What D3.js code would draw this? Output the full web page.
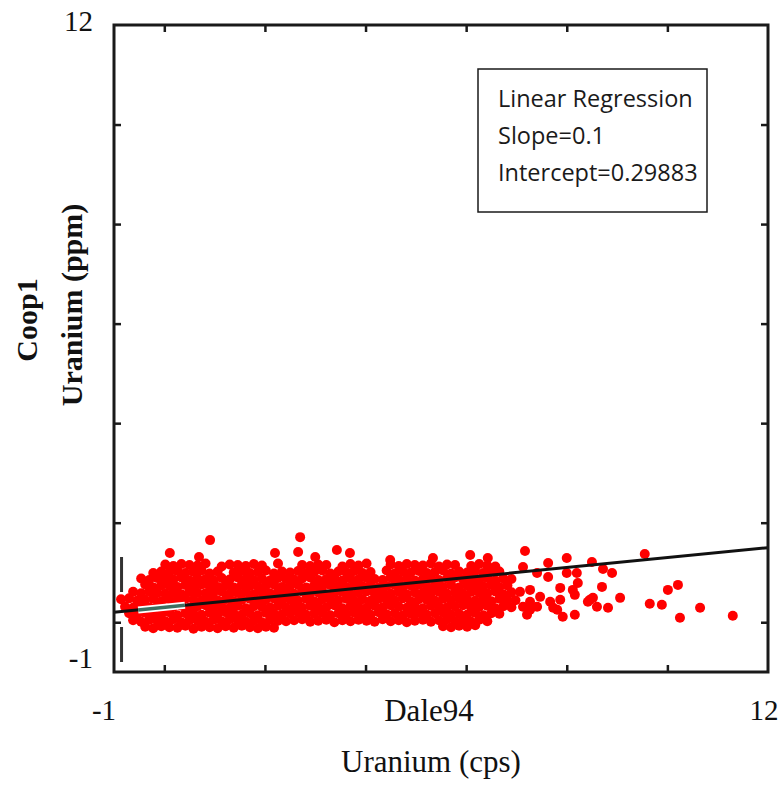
<!DOCTYPE html>
<html>
<head>
<meta charset="utf-8">
<script src="https://cdn.jsdelivr.net/npm/d3@7"></script>
<style>
  body { margin: 0; background: #ffffff; }
  svg { display: block; }
</style>
</head>
<body>
<svg id="chart" width="782" height="787"></svg>
<script>
// ---- axis settings ----
const xDomain = [-1, 12];
const yDomain = [-1, 12];
const xTicks = [0, 2, 4, 6, 8, 10];
const yTicks = [0, 2, 4, 6, 8, 10];
const xEndLabels = ["-1", "12"];
const yEndLabels = ["-1", "12"];
const xTitleLines = ["Dale94", "Uranium (cps)"];
const yTitleLines = ["Coop1", "Uranium (ppm)"];

// ---- fitted line ----
const slope = 0.1;
const intercept = 0.29883;
const legendTitle = "Linear Regression";

// highlighted stretch of the fitted line (x range)
const highlightSpan = [-0.52, 0.41];
// dashed marker near the left axis: x position and y extent
const markerX = -0.85;
const markerYSpan = [1.31, -0.80];

// ---- samples: [Dale94 cps, Coop1 ppm] ----
const densePoints = [
  [0.02,1.16],[0.18,1.13],[0.34,1.17],[0.50,1.15],[0.66,1.14],[0.82,1.18],[1.14,1.12],[1.30,1.16],[1.46,1.15],[1.62,1.13],[1.78,1.17],[1.94,1.14],[2.26,1.18],[2.74,1.15],[2.90,1.13],[3.06,1.16],[3.22,1.15],[3.54,1.12],[3.70,1.17],[3.86,1.14],[4.02,1.18],[4.50,1.16],[4.66,1.13],[4.82,1.17],[4.98,1.15],[5.14,1.14],[5.30,1.18],[5.46,1.12],[5.62,1.16],[5.78,1.15],[6.10,1.13],[6.26,1.17],[6.42,1.14],[6.58,1.12],
  [-0.22,0.99],[-0.06,1.02],[0.10,1.00],[0.26,1.03],[0.42,0.99],[0.58,1.01],[0.74,1.04],[0.90,0.98],[1.06,1.02],[1.38,1.00],[1.54,1.03],[1.70,0.99],[1.86,1.01],[2.02,1.04],[2.18,0.98],[2.34,1.02],[2.50,1.00],[2.66,1.03],[2.82,0.99],[2.98,1.01],[3.14,1.04],[3.30,0.98],[3.46,1.02],[3.62,1.00],[3.78,1.03],[3.94,0.99],[4.10,1.01],[4.42,1.04],[4.58,0.98],[4.74,1.02],[4.90,1.00],[5.06,1.03],[5.22,0.99],[5.38,1.01],[5.54,1.04],[5.70,0.98],[5.86,1.02],[6.02,1.00],[6.18,1.03],[6.34,0.99],[6.50,1.01],[6.66,1.02],
  [-0.46,0.88],[-0.30,0.85],[-0.14,0.89],[0.02,0.87],[0.18,0.86],[0.34,0.90],[0.50,0.84],[0.66,0.88],[0.82,0.87],[0.98,0.85],[1.14,0.89],[1.30,0.86],[1.46,0.90],[1.62,0.87],[1.78,0.85],[1.94,0.88],[2.10,0.84],[2.26,0.89],[2.42,0.87],[2.58,0.86],[2.74,0.88],[2.90,0.90],[3.06,0.85],[3.22,0.87],[3.38,0.89],[3.54,0.84],[3.70,0.88],[3.86,0.86],[4.02,0.89],[4.18,0.87],[4.34,0.85],[4.50,0.90],[4.66,0.86],[4.82,0.88],[4.98,0.84],[5.14,0.87],[5.30,0.89],[5.46,0.85],[5.62,0.88],[5.78,0.90],[5.94,0.86],[6.10,0.87],[6.26,0.85],[6.42,0.89],[6.58,0.84],[6.74,0.88],[6.90,0.87],
  [-0.38,0.76],[-0.22,0.70],[-0.06,0.74],[0.10,0.73],[0.26,0.71],[0.42,0.75],[0.58,0.72],[0.74,0.76],[0.90,0.73],[1.06,0.71],[1.22,0.74],[1.38,0.70],[1.54,0.75],[1.70,0.73],[1.86,0.72],[2.02,0.74],[2.18,0.76],[2.34,0.71],[2.50,0.73],[2.66,0.75],[2.82,0.70],[2.98,0.74],[3.14,0.72],[3.30,0.75],[3.46,0.73],[3.62,0.71],[3.78,0.76],[3.94,0.72],[4.10,0.74],[4.26,0.70],[4.42,0.73],[4.58,0.75],[4.74,0.71],[4.90,0.74],[5.06,0.76],[5.22,0.72],[5.38,0.73],[5.54,0.71],[5.70,0.75],[5.86,0.70],[6.02,0.74],[6.18,0.73],[6.34,0.72],[6.50,0.75],[6.66,0.71],[6.82,0.74],
  [-0.62,0.61],[-0.46,0.58],[-0.30,0.62],[-0.14,0.59],[0.02,0.57],[0.18,0.60],[0.34,0.56],[0.50,0.61],[0.66,0.59],[0.82,0.58],[0.98,0.60],[1.14,0.62],[1.30,0.57],[1.46,0.59],[1.62,0.61],[1.78,0.56],[1.94,0.60],[2.10,0.58],[2.26,0.61],[2.42,0.59],[2.58,0.57],[2.74,0.62],[2.90,0.58],[3.06,0.60],[3.22,0.56],[3.38,0.59],[3.54,0.61],[3.70,0.57],[3.86,0.60],[4.02,0.62],[4.18,0.58],[4.34,0.59],[4.50,0.57],[4.66,0.61],[4.82,0.56],[4.98,0.60],[5.14,0.59],[5.30,0.58],[5.46,0.61],[5.62,0.57],[5.78,0.60],[5.94,0.57],[6.10,0.61],[6.26,0.59],[6.42,0.58],[6.58,0.62],[6.74,0.56],[6.90,0.60],
  [-0.86,0.46],[-0.70,0.48],[-0.54,0.43],[-0.38,0.45],[-0.22,0.47],[-0.06,0.42],[0.10,0.46],[0.26,0.44],[0.42,0.47],[0.58,0.45],[0.74,0.43],[0.90,0.48],[1.06,0.44],[1.22,0.46],[1.38,0.42],[1.54,0.45],[1.70,0.47],[1.86,0.43],[2.02,0.46],[2.18,0.48],[2.34,0.44],[2.50,0.45],[2.66,0.43],[2.82,0.47],[2.98,0.42],[3.14,0.46],[3.30,0.45],[3.46,0.44],[3.62,0.47],[3.78,0.43],[3.94,0.46],[4.10,0.43],[4.26,0.47],[4.42,0.45],[4.58,0.44],[4.74,0.48],[4.90,0.42],[5.06,0.46],[5.22,0.45],[5.38,0.43],[5.54,0.47],[5.70,0.44],[5.86,0.48],[6.02,0.45],[6.18,0.43],[6.34,0.46],[6.50,0.42],[6.66,0.47],[6.82,0.45],[6.98,0.44],
  [-0.78,0.31],[-0.62,0.29],[-0.46,0.34],[-0.30,0.30],[-0.14,0.32],[0.02,0.28],[0.18,0.31],[0.34,0.33],[0.50,0.29],[0.66,0.32],[0.82,0.34],[0.98,0.30],[1.14,0.31],[1.30,0.29],[1.46,0.33],[1.62,0.28],[1.78,0.32],[1.94,0.31],[2.10,0.30],[2.26,0.33],[2.42,0.29],[2.58,0.32],[2.74,0.29],[2.90,0.33],[3.06,0.31],[3.22,0.30],[3.38,0.34],[3.54,0.28],[3.70,0.32],[3.86,0.31],[4.02,0.29],[4.18,0.33],[4.34,0.30],[4.50,0.34],[4.66,0.31],[4.82,0.29],[4.98,0.32],[5.14,0.28],[5.30,0.33],[5.46,0.31],[5.62,0.30],[5.78,0.32],[5.94,0.34],[6.10,0.29],[6.26,0.31],[6.42,0.33],[6.58,0.28],[6.74,0.32],[6.90,0.30],
  [-0.70,0.18],[-0.54,0.15],[-0.38,0.19],[-0.22,0.17],[-0.06,0.16],[0.10,0.20],[0.26,0.14],[0.42,0.18],[0.58,0.17],[0.74,0.15],[0.90,0.19],[1.06,0.16],[1.22,0.20],[1.38,0.17],[1.54,0.15],[1.70,0.18],[1.86,0.14],[2.02,0.19],[2.18,0.17],[2.34,0.16],[2.50,0.18],[2.66,0.20],[2.82,0.15],[2.98,0.17],[3.14,0.19],[3.30,0.14],[3.46,0.18],[3.62,0.16],[3.78,0.19],[3.94,0.17],[4.10,0.15],[4.26,0.20],[4.42,0.16],[4.58,0.18],[4.74,0.14],[4.90,0.17],[5.06,0.19],[5.22,0.15],[5.38,0.18],[5.54,0.20],[5.70,0.16],[5.86,0.17],[6.02,0.15],[6.18,0.19],[6.34,0.14],[6.50,0.18],[6.66,0.17],
  [-0.62,0.04],[-0.46,0.01],[-0.30,0.05],[-0.14,0.03],[0.02,0.02],[0.18,0.06],[0.34,0.00],[0.50,0.04],[0.66,0.03],[0.82,0.01],[0.98,0.05],[1.14,0.02],[1.30,0.06],[1.46,0.03],[1.62,0.01],[1.78,0.04],[1.94,0.00],[2.10,0.05],[2.26,0.03],[2.42,0.02],[2.58,0.04],[2.74,0.06],[2.90,0.01],[3.06,0.03],[3.22,0.05],[3.38,0.00],[3.54,0.04],[3.70,0.02],[3.86,0.05],[4.02,0.03],[4.18,0.01],[4.34,0.06],[4.50,0.02],[4.66,0.04],[4.82,0.00],[4.98,0.03],[5.14,0.05],[5.30,0.01],[5.46,0.04],[5.62,0.06],[5.78,0.02],[5.94,0.03],[6.10,0.01],[6.26,0.05],[6.42,0.02],
  [-0.38,-0.09],[-0.22,-0.12],[-0.06,-0.08],[0.10,-0.10],[0.26,-0.11],[0.42,-0.07],[0.58,-0.13],[0.74,-0.09],[0.90,-0.10],[1.06,-0.12],[1.22,-0.08],[1.38,-0.11],[1.54,-0.07],[1.70,-0.10],[1.86,-0.12],[2.02,-0.09],[2.18,-0.11],[5.54,-0.08],[5.70,-0.10],[5.86,-0.07],[6.02,-0.09],[6.18,-0.06]
];

const sparsePoints = [
  [0.91,1.65],[0.11,1.39],[0.69,1.31],[2.20,1.39],[2.70,1.71],[2.66,1.41],[3.00,1.31],[3.43,1.45],[3.69,1.39],[4.49,1.25],[5.34,1.29],[6.08,1.35],[6.43,1.29],
  [7.07,0.61],[7.13,1.11],[7.17,1.43],[7.13,0.31],[7.21,0.15],[7.27,0.65],[7.27,0.41],[7.27,0.25],[7.41,0.99],[7.41,0.31],[7.47,0.51],[7.63,1.19],[7.63,0.91],[7.67,0.41],[7.73,0.29],[7.81,0.25],[7.87,0.69],[7.87,0.45],[7.92,0.11],[8.00,1.29],[8.00,0.99],[8.12,0.65],[8.16,0.55],[8.16,0.15],[8.20,0.99],[8.22,0.79],[8.42,0.41],[8.46,0.45],[8.50,1.21],[8.52,0.49],[8.60,0.31],[8.70,0.71],[8.72,1.07],[8.82,0.29],[8.90,0.99],[9.06,0.49],[9.55,1.37],[9.65,0.37],[9.89,0.35],[10.01,0.65],[10.21,0.75],[10.25,0.09],[10.65,0.29],[11.30,0.13]
];

// ---- layout ----
const svg = d3.select("#chart");
const plot = { left: 114, right: 768, top: 25, bottom: 672 };

const x = d3.scaleLinear().domain(xDomain).range([plot.left, plot.right]);
const y = d3.scaleLinear().domain(yDomain).range([plot.bottom, plot.top]);

const serif = "'Liberation Serif', 'Times New Roman', serif";
const sans = "'Open Sans', 'Noto Sans', sans-serif";

svg.append("rect").attr("width", 782).attr("height", 787).attr("fill", "#ffffff");

// scatter
svg.append("g")
  .selectAll("circle")
  .data(densePoints.concat(sparsePoints))
  .join("circle")
  .attr("cx", d => x(d[0]))
  .attr("cy", d => y(d[1]))
  .attr("r", 5)
  .attr("fill", "#ff0000");

// fitted line across the full x range
const fit = v => slope * v + intercept;
svg.append("line")
  .attr("x1", x(xDomain[0])).attr("y1", y(fit(xDomain[0])))
  .attr("x2", x(xDomain[1])).attr("y2", y(fit(xDomain[1])))
  .attr("stroke", "#111111")
  .attr("stroke-width", 3);

// highlighted stretch of the fitted line
const hl = svg.append("g");
hl.append("line")
  .attr("x1", x(highlightSpan[0])).attr("y1", y(fit(highlightSpan[0])))
  .attr("x2", x(highlightSpan[1])).attr("y2", y(fit(highlightSpan[1])))
  .attr("stroke", "#ffffff").attr("stroke-width", 7);
hl.append("line")
  .attr("x1", x(highlightSpan[0])).attr("y1", y(fit(highlightSpan[0])))
  .attr("x2", x(highlightSpan[1])).attr("y2", y(fit(highlightSpan[1])))
  .attr("stroke", "#3f6e60").attr("stroke-width", 3.5);

// dashed marker beside the left axis
svg.append("line")
  .attr("x1", x(markerX)).attr("y1", y(markerYSpan[0]))
  .attr("x2", x(markerX)).attr("y2", y(markerYSpan[1]))
  .attr("stroke", "#333333")
  .attr("stroke-width", 3)
  .attr("stroke-dasharray", "35,35");

// inward ticks on all four sides
const tickLen = 7;
function styleTicks(g) {
  g.select(".domain").remove();
  g.selectAll(".tick line").attr("stroke", "#1a1a1a").attr("stroke-width", 2.5);
  g.selectAll(".tick text").remove();
}
svg.append("g").attr("transform", `translate(0,${plot.bottom})`)
  .call(d3.axisBottom(x).tickValues(xTicks).tickSize(-tickLen)).call(styleTicks);
svg.append("g").attr("transform", `translate(0,${plot.top})`)
  .call(d3.axisTop(x).tickValues(xTicks).tickSize(-tickLen)).call(styleTicks);
svg.append("g").attr("transform", `translate(${plot.left},0)`)
  .call(d3.axisLeft(y).tickValues(yTicks).tickSize(-tickLen)).call(styleTicks);
svg.append("g").attr("transform", `translate(${plot.right},0)`)
  .call(d3.axisRight(y).tickValues(yTicks).tickSize(-tickLen)).call(styleTicks);

// frame
svg.append("rect")
  .attr("x", plot.left).attr("y", plot.top)
  .attr("width", plot.right - plot.left).attr("height", plot.bottom - plot.top)
  .attr("fill", "none")
  .attr("stroke", "#1a1a1a")
  .attr("stroke-width", 3);

// end labels
const endFont = 29;
svg.append("text").text(yEndLabels[1])
  .attr("x", plot.left - 21).attr("y", y(yDomain[1]) + 6)
  .attr("text-anchor", "end").attr("font-family", serif).attr("font-size", endFont).attr("fill", "#111");
svg.append("text").text(yEndLabels[0])
  .attr("x", plot.left - 21).attr("y", y(yDomain[0]) - 4)
  .attr("text-anchor", "end").attr("font-family", serif).attr("font-size", endFont).attr("fill", "#111");
svg.append("text").text(xEndLabels[0])
  .attr("x", x(xDomain[0]) - 10).attr("y", 720)
  .attr("text-anchor", "middle").attr("font-family", serif).attr("font-size", endFont).attr("fill", "#111");
svg.append("text").text(xEndLabels[1])
  .attr("x", x(xDomain[1]) - 4).attr("y", 720)
  .attr("text-anchor", "middle").attr("font-family", serif).attr("font-size", endFont).attr("fill", "#111");

// x title
svg.append("text").text(xTitleLines[0])
  .attr("x", 429).attr("y", 721)
  .attr("text-anchor", "middle").attr("font-family", serif).attr("font-size", 31).attr("fill", "#111");
svg.append("text").text(xTitleLines[1])
  .attr("x", 431).attr("y", 772)
  .attr("text-anchor", "middle").attr("font-family", serif).attr("font-size", 31).attr("fill", "#111");

// y title (rotated)
svg.append("text").text(yTitleLines[0])
  .attr("transform", "translate(37,320) rotate(-90)")
  .attr("text-anchor", "middle").attr("font-family", serif).attr("font-weight", "bold")
  .attr("font-size", 30).attr("fill", "#111");
svg.append("text").text(yTitleLines[1])
  .attr("transform", "translate(82,305) rotate(-90)")
  .attr("text-anchor", "middle").attr("font-family", serif).attr("font-weight", "bold")
  .attr("font-size", 30).attr("fill", "#111");

// legend box
const legend = svg.append("g");
legend.append("rect")
  .attr("x", 478).attr("y", 69).attr("width", 229).attr("height", 143)
  .attr("fill", "#ffffff").attr("stroke", "#1a1a1a").attr("stroke-width", 1.5);
const legendLines = [legendTitle, `Slope=${slope}`, `Intercept=${intercept}`];
legend.selectAll("text")
  .data(legendLines)
  .join("text")
  .text(d => d)
  .attr("x", 498)
  .attr("y", (d, i) => 107 + i * 37)
  .attr("font-family", sans)
  .attr("font-size", 23.5)
  .attr("fill", "#1a1a1a");
</script>
</body>
</html>
